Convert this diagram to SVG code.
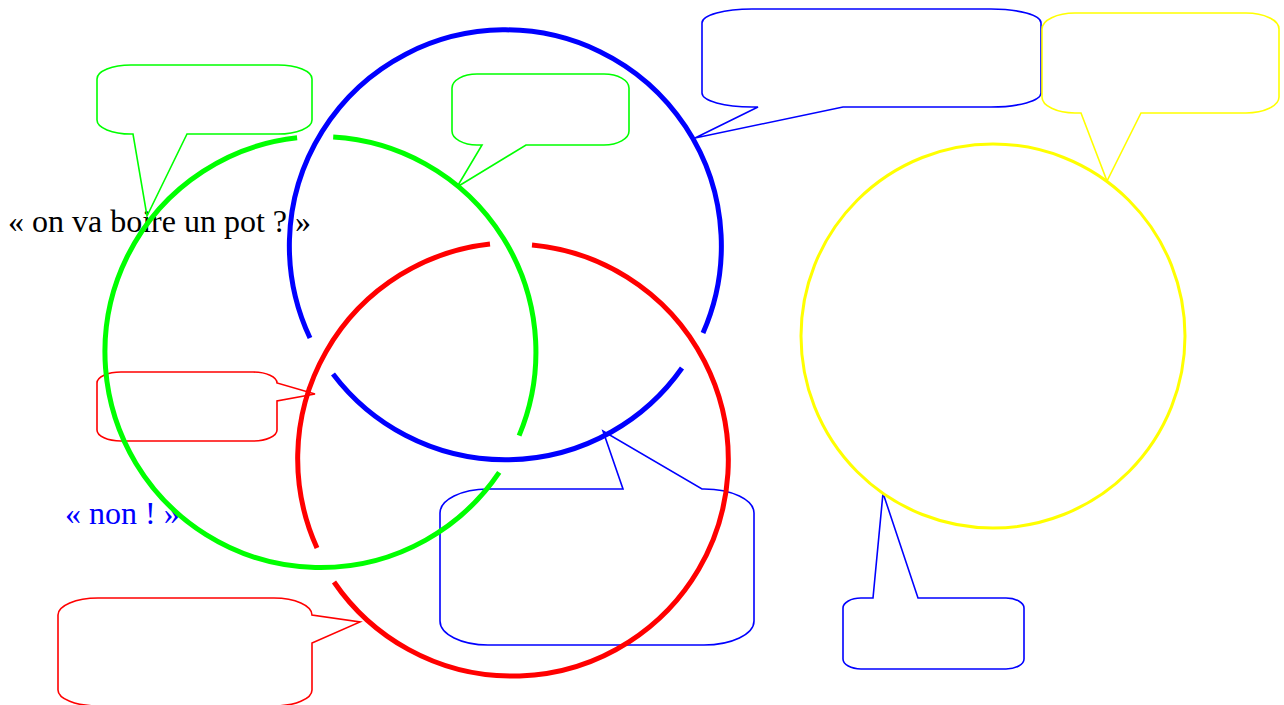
<svg xmlns="http://www.w3.org/2000/svg" width="1284" height="705" viewBox="0 0 1284 705">
<style>
.txt{font-family:"Liberation Serif","Times New Roman",serif;font-size:32px}
.ring{fill:none;stroke-width:5}
.call{fill:none;stroke-width:1.6;stroke-linejoin:miter}
.g{stroke:#00ff00}.b{stroke:#0000ff}.r{stroke:#ff0000}.y{stroke:#ffff00}
</style>
<rect width="1284" height="705" fill="#ffffff"/>
<g id="texts">
<text class="txt" x="8" y="232" fill="#000000">« on va boire un pot ? »</text>
<text class="txt" x="65" y="524" fill="#0000ff">« non ! »</text>
</g>
<g id="callouts">
<g id="callout-green-1"><path class="call g" d="M131,65 H278 A34,14 0 0 1 312,79 V120 A34,14 0 0 1 278,134 H187 L147,216 L133,134 H131 A34,14 0 0 1 97,120 V79 A34,14 0 0 1 131,65 Z"/></g>
<g id="callout-green-2"><path class="call g" d="M477,74 H604 A25,14 0 0 1 629,88 V131 A25,14 0 0 1 604,145 H526 L457,187 L482,145 H477 A25,14 0 0 1 452,131 V88 A25,14 0 0 1 477,74 Z"/></g>
<g id="callout-blue-top"><path class="call b" d="M752,9 H991 A50,14 0 0 1 1041,23 V93 A50,14 0 0 1 991,107 H843 L695,138 L758,107 H752 A50,14 0 0 1 702,93 V23 A50,14 0 0 1 752,9 Z"/></g>
<g id="callout-yellow"><path class="call y" d="M1075,13 H1246 A33,16 0 0 1 1279,29 V97 A33,16 0 0 1 1246,113 H1141 L1107,181 L1081,113 H1075 A33,16 0 0 1 1042,97 V29 A33,16 0 0 1 1075,13 Z"/></g>
<g id="callout-red-mid"><path class="call r" d="M121,372 H253 A24,11 0 0 1 277,383 L315,394 L277,401 V430 A24,11 0 0 1 253,441 H121 A24,11 0 0 1 97,430 V383 A24,11 0 0 1 121,372 Z"/></g>
<g id="callout-red-bottom"><path class="call r" d="M98,598 H274 A38,17 0 0 1 312,615 L360,622 L312,643 V690 A38,16 0 0 1 274,706 H98 A40,16 0 0 1 58,690 V615 A40,17 0 0 1 98,598 Z"/></g>
<g id="callout-blue-mid"><path class="call b" d="M488,489 H623 L603,431 L702,489 H704 A50,24 0 0 1 754,513 V621 A50,24 0 0 1 704,645 H488 A48,24 0 0 1 440,621 V513 A48,24 0 0 1 488,489 Z"/></g>
<g id="callout-blue-bottom"><path class="call b" d="M861,598 H873 L883,493 L918,598 H1006 A18,10 0 0 1 1024,608 V659 A18,10 0 0 1 1006,669 H861 A18,10 0 0 1 843,659 V608 A18,10 0 0 1 861,598 Z"/></g>
</g>
<g id="circle-yellow"><circle class="y" cx="993" cy="336" r="192" fill="none" stroke-width="3"/></g>
<g id="circle-blue">
<path class="ring b" d="M310,338 A216,216 0 1 1 703,333"/>
<path class="ring b" d="M682,368 A216,216 0 0 1 333,374"/>
</g>
<g id="circle-green">
<path class="ring g" d="M333.2,137 A215.5,215.5 0 0 1 519.1,435.6"/>
<path class="ring g" d="M499.2,472.4 A215.5,215.5 0 1 1 297.1,137.8"/>
</g>
<g id="circle-red">
<path class="ring r" d="M532,245 A216,216 0 1 1 334,582"/>
<path class="ring r" d="M317,548 A216,216 0 0 1 490,244"/>
</g>
</svg>
